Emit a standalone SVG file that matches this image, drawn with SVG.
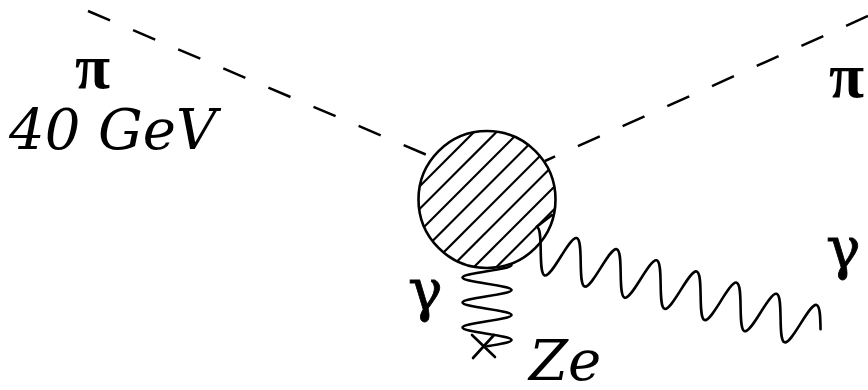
<svg xmlns="http://www.w3.org/2000/svg" width="868" height="390" viewBox="0 0 868 390">
<style>
.dash{fill:none;stroke:#000;stroke-width:2.5;stroke-dasharray:24 25}
.wave{fill:none;stroke:#000;stroke-width:2.6;vector-effect:non-scaling-stroke;stroke-linejoin:round;stroke-linecap:round}
.hatch line{stroke:#000;stroke-width:2.2}
.lbl{font-family:"DejaVu Serif","Liberation Serif",serif;font-size:56px;fill:#000}
.gk{font-family:"Liberation Serif","DejaVu Serif",serif;font-size:64px;font-weight:bold;fill:#000}
.gm{font-family:"DejaVu Serif","Liberation Serif",serif;font-size:58px;fill:#000;stroke:#000;stroke-width:0.8}
.it{font-style:italic}
.mark{stroke:#000;stroke-width:2.6;stroke-linecap:round}
</style>
<defs><clipPath id="cc"><circle cx="487" cy="199.5" r="68.5"/></clipPath></defs>
<rect width="868" height="390" fill="#fff"/>
<g id="blob">
<circle cx="487" cy="199.5" r="68.5" fill="#fff"/>
<g class="hatch" clip-path="url(#cc)">
<line x1="326" y1="280" x2="496" y2="110"/>
<line x1="348.5" y1="280" x2="518.5" y2="110"/>
<line x1="371" y1="280" x2="541" y2="110"/>
<line x1="393.5" y1="280" x2="563.5" y2="110"/>
<line x1="416" y1="280" x2="586" y2="110"/>
<line x1="438.5" y1="280" x2="608.5" y2="110"/>
<line x1="461" y1="280" x2="631" y2="110"/>
<line x1="483.5" y1="280" x2="653.5" y2="110"/>
</g>
<circle cx="487" cy="199.5" r="68.5" fill="none" stroke="#000" stroke-width="2.6"/>
</g>
<g id="nucleus">
<line class="mark" x1="472" y1="335" x2="495" y2="357"/>
<line class="mark" x1="494" y1="335" x2="473" y2="358"/>
</g>
<g id="connectors">
<path class="dash" d="M88,11 L427,155"/>
<path class="dash" d="M868,16 L545,161"/>
<path class="wave" transform="translate(545,252.3) rotate(15.6) translate(-4.425,0) scale(6.605,22.3)" d="M0.172,-1.695 L-1.5708,-1 c0.5685,0 1.0585,0.4877 1.5708,1 c0.5123,0.5123 1.0023,1 1.5708,1 c0.5685,0 1.0585,-0.4877 1.5708,-1 c0.5123,-0.5123 1.0023,-1 1.5708,-1 c0.5685,0 1.0585,0.4877 1.5708,1 c0.5123,0.5123 1.0023,1 1.5708,1 c0.5685,0 1.0585,-0.4877 1.5708,-1 c0.5123,-0.5123 1.0023,-1 1.5708,-1 c0.5685,0 1.0585,0.4877 1.5708,1 c0.5123,0.5123 1.0023,1 1.5708,1 c0.5685,0 1.0585,-0.4877 1.5708,-1 c0.5123,-0.5123 1.0023,-1 1.5708,-1 c0.5685,0 1.0585,0.4877 1.5708,1 c0.5123,0.5123 1.0023,1 1.5708,1 c0.5685,0 1.0585,-0.4877 1.5708,-1 c0.5123,-0.5123 1.0023,-1 1.5708,-1 c0.5685,0 1.0585,0.4877 1.5708,1 c0.5123,0.5123 1.0023,1 1.5708,1 c0.5685,0 1.0585,-0.4877 1.5708,-1 c0.5123,-0.5123 1.0023,-1 1.5708,-1 c0.5685,0 1.0585,0.4877 1.5708,1 c0.5123,0.5123 1.0023,1 1.5708,1 c0.5685,0 1.0585,-0.4877 1.5708,-1 c0.5123,-0.5123 1.0023,-1 1.5708,-1 c0.5685,0 1.0585,0.4877 1.5708,1 c0.5123,0.5123 1.0023,1 1.5708,1 c0.5685,0 1.0585,-0.4877 1.5708,-1 c0.5123,-0.5123 1.0023,-1 1.5708,-1 c0.5685,0 1.0585,0.4877 1.5708,1"/>
<path class="wave" transform="translate(487,258.75) scale(24.5,3.979)" d="M1,1.5708 c0,0.5685 -0.4877,1.0585 -1,1.5708 c-0.5123,0.5123 -1,1.0023 -1,1.5708 c0,0.5685 0.4877,1.0585 1,1.5708 c0.5123,0.5123 1,1.0023 1,1.5708 c0,0.5685 -0.4877,1.0585 -1,1.5708 c-0.5123,0.5123 -1,1.0023 -1,1.5708 c0,0.5685 0.4877,1.0585 1,1.5708 c0.5123,0.5123 1,1.0023 1,1.5708 c0,0.5685 -0.4877,1.0585 -1,1.5708 c-0.5123,0.5123 -1,1.0023 -1,1.5708 c0,0.5685 0.4877,1.0585 1,1.5708 c0.5123,0.5123 1,1.0023 1,1.5708 c0,0.5685 -0.4877,1.0585 -1,1.5708"/>
</g>
<g id="labels">
<text class="gk" x="75" y="88">π</text>
<text class="lbl it" x="9" y="149">40 GeV</text>
<text class="gk" x="829" y="97">π</text>
<text class="gm" x="408" y="310">γ</text>
<text class="gm" x="826" y="268">γ</text>
<text class="lbl it" x="529" y="380">Ze</text>
</g>
</svg>
